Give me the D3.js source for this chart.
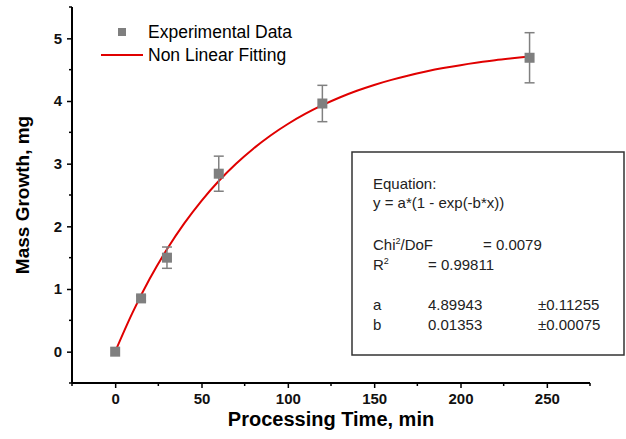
<!DOCTYPE html>
<html>
<head>
<meta charset="utf-8">
<script src="https://cdn.jsdelivr.net/npm/d3@7"></script>
<style>
  body { margin: 0; background: #fff; }
  text { font-family: "Liberation Sans", Arial, sans-serif; }
</style>
</head>
<body>
<svg id="chart" width="626" height="439"></svg>
<script>
// measured points
const times = [0, 15, 30, 60, 120, 240];
const mass = [0, 0.85, 1.5, 2.84, 3.96, 4.69];
const errs = [0, 0.04, 0.17, 0.28, 0.29, 0.40];

// fitted curve
const fitTimes = [0, 10, 20, 30, 40, 50, 60, 70, 80, 90, 100, 110, 120, 130, 140, 150, 160, 170, 180, 190, 200, 210, 220, 230, 240];
const fitMass = [0, 0.620, 1.162, 1.634, 2.047, 2.408, 2.724, 2.999, 3.239, 3.450, 3.633, 3.793, 3.933, 4.056, 4.163, 4.256, 4.337, 4.408, 4.470, 4.525, 4.572, 4.613, 4.650, 4.681, 4.709];

const xTicks = [0, 50, 100, 150, 200, 250];
const xMinor = [-25, 25, 75, 125, 175, 225, 275];
const yTicks = [0, 1, 2, 3, 4, 5];
const yMinor = [-0.5, 0.5, 1.5, 2.5, 3.5, 4.5, 5.5];

const boxLines = [
  ['Equation:'],
  ['y = a*(1 - exp(-b*x))'],
  ['Chi2/DoF', '= 0.0079'],
  ['R2', '=  0.99811'],
  ['a', '4.89943', '±0.11255'],
  ['b', '0.01353', '±0.00075']
];

const svg = d3.select('#chart');
const x = d3.scaleLinear().domain([-25, 275]).range([72, 590]);
const y = d3.scaleLinear().domain([-0.5, 5.5]).range([383, 7]);

// axes
const xAxis = d3.axisBottom(x).tickValues(xTicks).tickSize(5).tickPadding(5).tickFormat(d3.format('d'));
const yAxis = d3.axisLeft(y).tickValues(yTicks).tickSize(5).tickPadding(5).tickFormat(d3.format('d'));

const gx = svg.append('g').attr('transform', 'translate(0,383)').call(xAxis);
const gy = svg.append('g').attr('transform', 'translate(72,0)').call(yAxis);

gx.append('g').selectAll('line').data(xMinor).enter().append('line')
  .attr('x1', d => x(d)).attr('x2', d => x(d)).attr('y1', 0).attr('y2', 3)
  .style('stroke', '#000').style('stroke-width', '1.5px');
gy.append('g').selectAll('line').data(yMinor).enter().append('line')
  .attr('y1', d => y(d)).attr('y2', d => y(d)).attr('x1', 0).attr('x2', -3)
  .style('stroke', '#000').style('stroke-width', '1.5px');

[gx, gy].forEach(g => {
  g.select('.domain').style('stroke', '#000').style('stroke-width', '2px');
  g.selectAll('.tick line').style('stroke', '#000').style('stroke-width', '1.5px');
  g.selectAll('.tick text').style('font-size', '15px').style('font-weight', 'bold')
    .style('font-family', '"Liberation Sans", Arial, sans-serif').style('fill', '#111');
});
gx.select('.domain').attr('d', `M${x(-25)},0H${x(275)}`);
gy.select('.domain').attr('d', `M0,${y(-0.5)}V${y(5.5)}`);

// axis titles
svg.append('text')
  .attr('x', 331).attr('y', 426)
  .attr('text-anchor', 'middle')
  .style('font-size', '20px').style('font-weight', 'bold')
  .text('Processing Time, min');

svg.append('text')
  .attr('transform', 'translate(29,195) rotate(-90)')
  .attr('text-anchor', 'middle')
  .style('font-size', '19px').style('font-weight', 'bold')
  .text('Mass Growth, mg');

// fit line
const line = d3.line().x(d => x(d[0])).y(d => y(d[1])).curve(d3.curveCatmullRom);
svg.append('path')
  .datum(fitTimes.map((t, i) => [t, fitMass[i]]))
  .attr('d', line)
  .style('fill', 'none').style('stroke', '#e00000').style('stroke-width', '2px');

// error bars
const pts = svg.selectAll('g.pt')
  .data(times.map((t, i) => ({ t: t, m: mass[i], e: errs[i] })))
  .enter().append('g').attr('class', 'pt');

pts.each(function (d) {
  const g = d3.select(this);
  if (d.e > 0) {
    g.append('line')
      .attr('x1', x(d.t)).attr('x2', x(d.t))
      .attr('y1', y(d.m + d.e)).attr('y2', y(d.m - d.e))
      .style('stroke', '#808080').style('stroke-width', '1.5px');
    [d.m + d.e, d.m - d.e].forEach(v => {
      g.append('line')
        .attr('x1', x(d.t) - 5).attr('x2', x(d.t) + 5)
        .attr('y1', y(v)).attr('y2', y(v))
        .style('stroke', '#808080').style('stroke-width', '1.5px');
    });
  }
});

// points
svg.append('g').selectAll('rect').data(times).enter().append('rect')
  .attr('x', d => x(d) - 5)
  .attr('y', (d, i) => y(mass[i]) - 5)
  .attr('width', 10).attr('height', 10)
  .style('fill', '#7f7f7f');

// legend
svg.append('rect').attr('x', 118).attr('y', 28).attr('width', 8).attr('height', 8).style('fill', '#7f7f7f');
svg.append('text').attr('x', 148).attr('y', 38).style('font-size', '17.5px').text('Experimental Data');
svg.append('line').attr('x1', 101).attr('x2', 143).attr('y1', 55).attr('y2', 55)
  .style('stroke', '#e00000').style('stroke-width', '2px');
svg.append('text').attr('x', 148).attr('y', 61).style('font-size', '17.5px').text('Non Linear Fitting');

// parameter box
svg.append('rect').attr('x', 352).attr('y', 152).attr('width', 272).attr('height', 203)
  .style('fill', '#fff').style('stroke', '#333').style('stroke-width', '1.5px');

const box = svg.append('g').style('font-size', '15px').style('fill', '#222');
const rowY = [189, 208, 250, 270, 310, 330];
const colX = [[373], [373], [373, 483], [373, 428], [373, 428, 538], [373, 428, 538]];
boxLines.forEach((row, i) => {
  row.forEach((s, j) => {
    const t = box.append('text').attr('x', colX[i][j]).attr('y', rowY[i]);
    if (j === 0 && (s === 'Chi2/DoF' || s === 'R2')) {
      t.append('tspan').text(s === 'R2' ? 'R' : 'Chi');
      t.append('tspan').attr('dy', -6).style('font-size', '9px').text('2');
      if (s !== 'R2') t.append('tspan').attr('dy', 6).text('/DoF');
    } else {
      t.text(s);
    }
  });
});
</script>
</body>
</html>
